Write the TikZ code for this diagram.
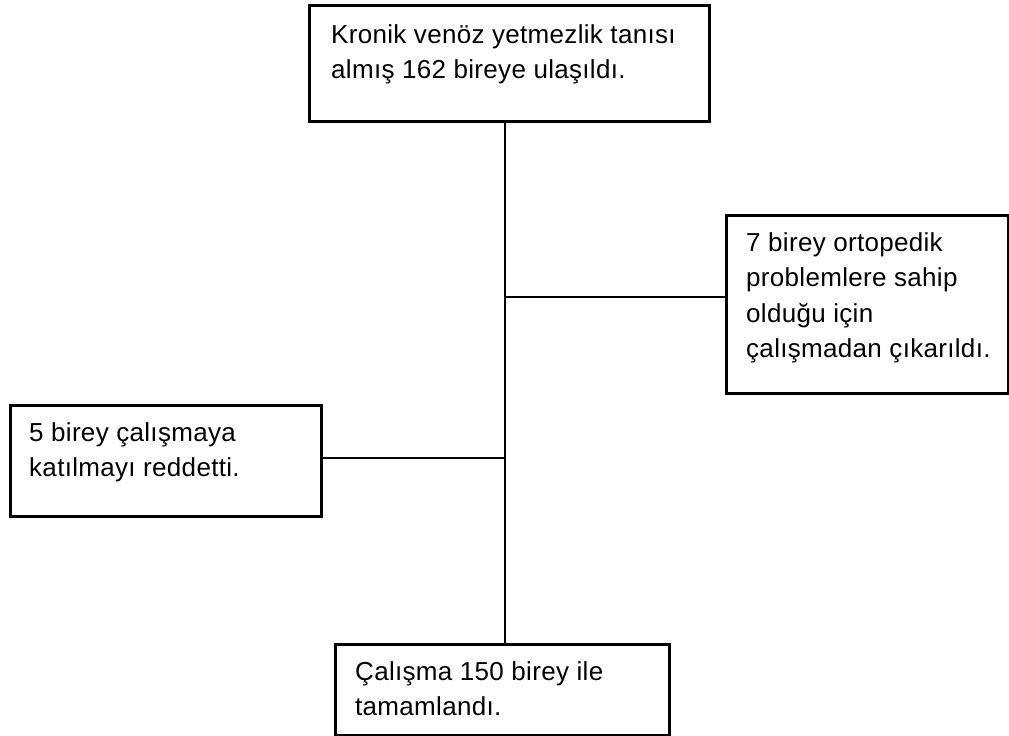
\documentclass[tikz,border=0pt]{standalone}
\usepackage{fontspec}
\setmainfont[LetterSpace=1.2]{Liberation Sans}
\usetikzlibrary{positioning}

\begin{document}
\begin{tikzpicture}[
        x=1pt, y=-1pt,
        % Stile per i riquadri
        box/.style={rectangle, draw=black, line width=3pt, anchor=north west, inner sep=0pt},
        % Stile per i testi nei riquadri
        txt/.style={anchor=north west, inner sep=0pt, align=left, font=\fontsize{26}{35.5}\selectfont},
        % Stile per le linee di collegamento
        link/.style={draw=black, line width=2.6pt}
    ]

        \useasboundingbox (0,0) rectangle (1009,736);

        % --- RIQUADRI ---
        \node[box, minimum width=400pt, minimum height=116pt] (top)    at (308,4)   {};
        \node[box, minimum width=282pt, minimum height=178pt] (right)  at (725,214) {};
        \node[box, minimum width=311pt, minimum height=111pt] (left)   at (9,404)   {};
        \node[box, minimum width=334pt, minimum height=91pt]  (bottom) at (334,643) {};

        % --- TESTI ---
        \node[txt] (topT)    at (331,24)  {Kronik venöz yetmezlik tanısı\\almış 162 bireye ulaşıldı.};
        \node[txt] (rightT)  at (746,232) {7 birey ortopedik\\problemlere sahip\\olduğu için\\çalışmadan çıkarıldı.};
        \node[txt] (leftT)   at (29,422)  {5 birey çalışmaya\\katılmayı reddetti.};
        \node[txt] (bottomT) at (355,661) {Çalışma 150 birey ile\\tamamlandı.};

        % --- COLLEGAMENTI ---
        \coordinate (jr) at (505,297);
        \coordinate (jl) at (505,458);

        \draw[link] (top.south -| jr) -- (bottom.north -| jr);
        \draw[link] (jr) -- (right.west |- jr);
        \draw[link] (jl) -- (left.east |- jl);

    \end{tikzpicture}
\end{document}
